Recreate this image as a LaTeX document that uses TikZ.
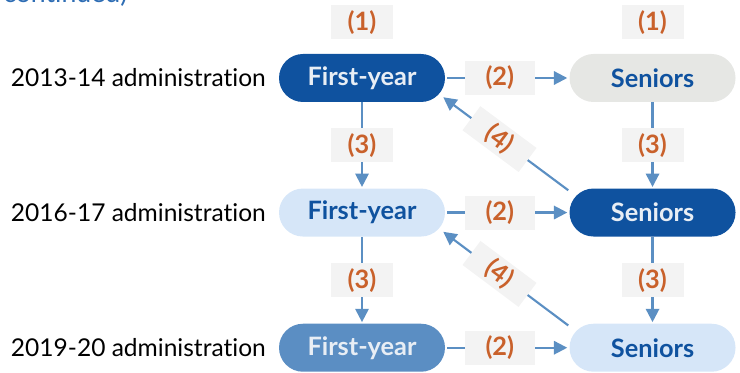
\documentclass[tikz,border=0pt]{standalone}
\usepackage{fontspec}
\setmainfont{Lato}[Ligatures=NoCommon]
\usetikzlibrary{positioning,calc,arrows.meta}

\definecolor{darkblue}{HTML}{0F529F}
\definecolor{paleblue}{HTML}{D6E6F8}
\definecolor{midblue}{HTML}{5B8EC3}
\definecolor{stagegrey}{HTML}{E6E7E4}
\definecolor{lighttext}{HTML}{E8EEF5}
\definecolor{arrowblue}{HTML}{5B8FC3}
\definecolor{tagorange}{HTML}{C9612B}
\definecolor{tagfill}{HTML}{F3F3F3}
\definecolor{titleblue}{HTML}{2E6DB4}

\tikzset{
  stage/.style={rectangle, rounded corners=18pt, minimum width=124.5pt,
    minimum height=36pt, inner sep=0pt,
    font=\fontsize{19}{22}\selectfont\bfseries},
  darkstage/.style={stage, fill=darkblue, text=lighttext},
  palestage/.style={stage, fill=paleblue, text=darkblue},
  midstage/.style={stage, fill=midblue, text=lighttext},
  greystage/.style={stage, fill=stagegrey, text=darkblue},
  yearname/.style={anchor=east, inner sep=0pt, font=\fontsize{18.4}{20}\selectfont},
  tag/.style={fill=tagfill, text=tagorange, minimum width=46.5pt,
    minimum height=25.5pt, inner sep=0pt,
    font=\fontsize{19}{22}\selectfont\bfseries},
  widetag/.style={tag, minimum width=52.5pt},
  flow/.style={draw=arrowblue, line width=1.6pt,
    -{Triangle[length=10pt, width=10pt]}}
}

\begin{document}
\begin{tikzpicture}[x=0.75pt,y=0.75pt]
\useasboundingbox (0,0) rectangle (740,-373);
% clipped title
\node[anchor=base west, text=titleblue, font=\fontsize{20}{22}\selectfont, inner sep=0pt] (title) at (3,-3) {continued)};
%----------------------------------
\node[darkstage] (fy1) at (362,-78) {First-year};
\node[greystage, right=93pt of fy1] (sn1) {Seniors};
\node[palestage, below=64.5pt of fy1] (fy2) {First-year};
\node[darkstage, below=64.5pt of sn1] (sn2) {Seniors};
\node[midstage, below=65pt of fy2] (fy3) {First-year};
\node[palestage, below=65pt of sn2] (sn3) {Seniors};
%----------------------------------
\node[yearname, left=9.5pt of fy1] (y1) {2013-14 administration};
\node[yearname, left=9.5pt of fy2] (y2) {2016-17 administration};
\node[yearname, left=9.5pt of fy3] (y3) {2019-20 administration};
%----------------------------------
\node[tag, above=10.5pt of fy1] (t1a) {(1)};
\node[tag, above=10.5pt of sn1] (t1b) {(1)};
%----------------------------------
\draw[flow, shorten <=1.5pt, shorten >=1.5pt] (fy1.east) -- node[widetag, pos=0.44] (t2a) {(2)} (sn1.west);
\draw[flow, shorten <=1.5pt, shorten >=1.5pt] (fy2.east) -- node[widetag, pos=0.44] (t2b) {(2)} (sn2.west);
\draw[flow, shorten <=1.5pt, shorten >=1.5pt] (fy3.east) -- node[widetag, pos=0.44] (t2c) {(2)} (sn3.west);
\draw[flow, shorten >=1pt] (fy1.south) -- node[tag] (t3a) {(3)} (fy2.north);
\draw[flow, shorten >=1pt] (fy2.south) -- node[tag] (t3b) {(3)} (fy3.north);
\draw[flow, shorten >=1pt] (sn1.south) -- node[tag] (t3c) {(3)} (sn2.north);
\draw[flow, shorten >=1pt] (sn2.south) -- node[tag] (t3d) {(3)} (sn3.north);
\draw[flow] ($(sn2.north west)+(-1,-2)$) -- node[widetag, minimum height=22.5pt, sloped, pos=0.55] (t4a) {(4)} ($(fy1.south east)+(-2,5)$);
\draw[flow] ($(sn3.north west)+(-1,-2)$) -- node[widetag, minimum height=22.5pt, sloped, pos=0.55] (t4b) {(4)} ($(fy2.south east)+(-2,5)$);
\end{tikzpicture}
\end{document}
